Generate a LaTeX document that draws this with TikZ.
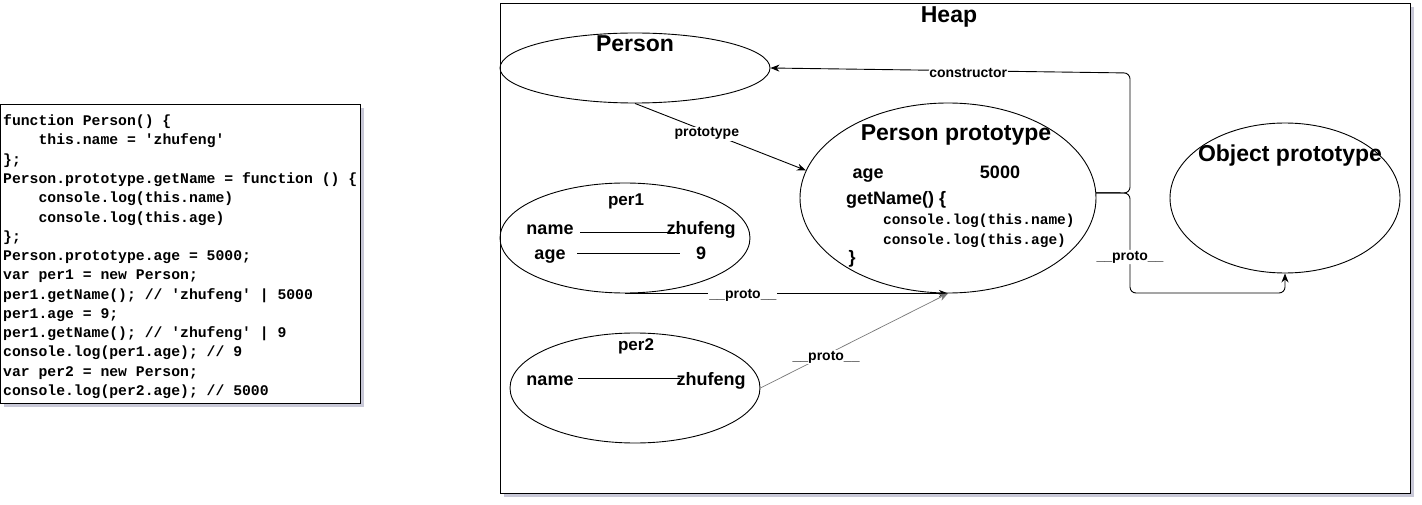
\documentclass[tikz,border=0pt]{standalone}
\usepackage{fontspec}
\setmainfont{Liberation Sans}
\setmonofont{Liberation Mono}
\usetikzlibrary{arrows.meta,shapes.geometric}
\definecolor{shadowc}{RGB}{200,200,215}
\definecolor{lgray}{RGB}{120,120,120}
\newcommand\mysq{\char"27 }
\begin{document}
\begin{tikzpicture}[x=1pt,y=-1pt,
  ell/.style={ellipse, draw, line width=0.9pt, inner sep=0pt},
  title/.style={font=\fontsize{23}{27}\selectfont\bfseries, inner sep=0pt, anchor=base},
  txt/.style={font=\fontsize{18}{22}\selectfont\bfseries, inner sep=0pt, anchor=base},
  lbl/.style={font=\fontsize{14}{17}\selectfont\bfseries, fill=white, inner sep=1pt},
  codetxt/.style={font=\fontsize{14.75}{19.2}\selectfont\ttfamily\bfseries, align=left, inner sep=0pt},
  ppcode/.style={font=\fontsize{14.5}{20}\selectfont\ttfamily\bfseries, inner sep=0pt, anchor=base west},
  arr/.style={draw, line width=0.9pt, -{Stealth[length=9pt,width=7pt]}},
  conn/.style={draw, line width=0.9pt}]
\useasboundingbox (0,0) rectangle (1422,505);
% shadows
\fill[shadowc] (4,108) rectangle (364,407);
\fill[shadowc] (504,7) rectangle (1414,497);
% code box
\node[draw, line width=1.2pt, fill=white, minimum width=360pt, minimum height=299pt, inner sep=0pt, anchor=north west] (codebox) at (0,104) {};
\node[codetxt, anchor=north west, font=\fontsize{14.75}{19.28}\selectfont\ttfamily\bfseries] (code) at (3,114.5) {function Person() \{\\
\phantom{0000}this.name = \mysq zhufeng\mysq\\
\};\\
Person.prototype.getName = function () \{\\
\phantom{0000}console.log(this.name)\\
\phantom{0000}console.log(this.age)\\
\};\\
Person.prototype.age = 5000;\\
var per1 = new Person;\\
per1.getName(); // \mysq zhufeng\mysq\ | 5000\\
per1.age = 9;\\
per1.getName(); // \mysq zhufeng\mysq\ | 9\\
console.log(per1.age); // 9\\
var per2 = new Person;\\
console.log(per2.age); // 5000};
% heap box
\node[draw, line width=1.2pt, fill=white, minimum width=910pt, minimum height=490pt, inner sep=0pt, anchor=north west] (heap) at (500,3) {};
\node[title] (heaplbl) at (949,23) {Heap};
% ellipses
\node[ell, minimum width=270pt, minimum height=70pt] (person) at (635,68) {};
\node[ell, minimum width=296pt, minimum height=190pt] (pp) at (948,198) {};
\node[ell, minimum width=230pt, minimum height=150pt] (obj) at (1285,198) {};
\node[ell, minimum width=250pt, minimum height=110pt] (per1) at (625,238) {};
\node[ell, minimum width=250pt, minimum height=110pt] (per2) at (635,388) {};
% titles
\node[title] (personlbl) at (635,52) {Person};
\node[title] (pplbl) at (956,141) {Person prototype};
\node[title] (objlbl) at (1290,162) {Object prototype};
\node[txt, font=\fontsize{17}{20}\selectfont\bfseries] (per1lbl) at (626,206) {per1};
\node[txt, font=\fontsize{17}{20}\selectfont\bfseries] (per2lbl) at (636,350) {per2};
% per1 contents
\node[txt] (n1) at (550,235) {name};
\node[txt] (v1) at (701,235) {zhufeng};
\node[txt] (a1) at (550,259) {age};
\node[txt] (a1v) at (701,259) {9};
\coordinate (n1s) at (580,232); \coordinate (n1e) at (680,232);
\coordinate (a1s) at (577,253); \coordinate (a1e) at (680,253);
\draw[conn] (n1s) -- (n1e);
\draw[conn] (a1s) -- (a1e);
% per2 contents
\node[txt] (n2) at (550,385) {name};
\node[txt] (v2) at (711,385) {zhufeng};
\coordinate (n2s) at (578,378); \coordinate (n2e) at (680,378);
\draw[conn] (n2s) -- (n2e);
% person prototype contents
\node[txt] (ppage) at (868,179) {age};
\node[txt] (ppagev) at (1000,179) {5000};
\node[txt, anchor=base west] (ppget) at (846,205) {getName() \{};
\node[ppcode] (ppc1) at (883,225) {console.log(this.name)};
\node[ppcode] (ppc2) at (883,244) {console.log(this.age)};
\node[txt] (ppclose) at (852,263) {\}};
% connectors
\coordinate (j1) at (1130,193);
\coordinate (c1) at (1130,73);
\coordinate (d1) at (1130,293);
\coordinate (d2) at (1285,293);
\draw[arr] (person.south) -- node[lbl, pos=0.42, yshift=-2pt] (protolbl) {prototype} (pp.169);
\draw[arr, rounded corners=6pt] (pp.2) -- (j1) -- (c1) -- node[lbl, pos=0.45, yshift=-2pt] (conslbl) {constructor} (person.east);
\draw[arr, rounded corners=6pt] (pp.2) -- (j1) -- node[lbl, pos=0.64] (p3lbl) {\_\_proto\_\_} (d1) -- (d2) -- (obj.south);
\draw[arr] (per1.south) -- node[lbl, pos=0.365, yshift=-2pt] (p1lbl) {\_\_proto\_\_} (pp.south);
\draw[arr, draw=lgray, line width=0.7pt] (per2.east) -- node[lbl, pos=0.35, yshift=-2pt] (p2lbl) {\_\_proto\_\_} (pp.south);
\end{tikzpicture}
\end{document}
